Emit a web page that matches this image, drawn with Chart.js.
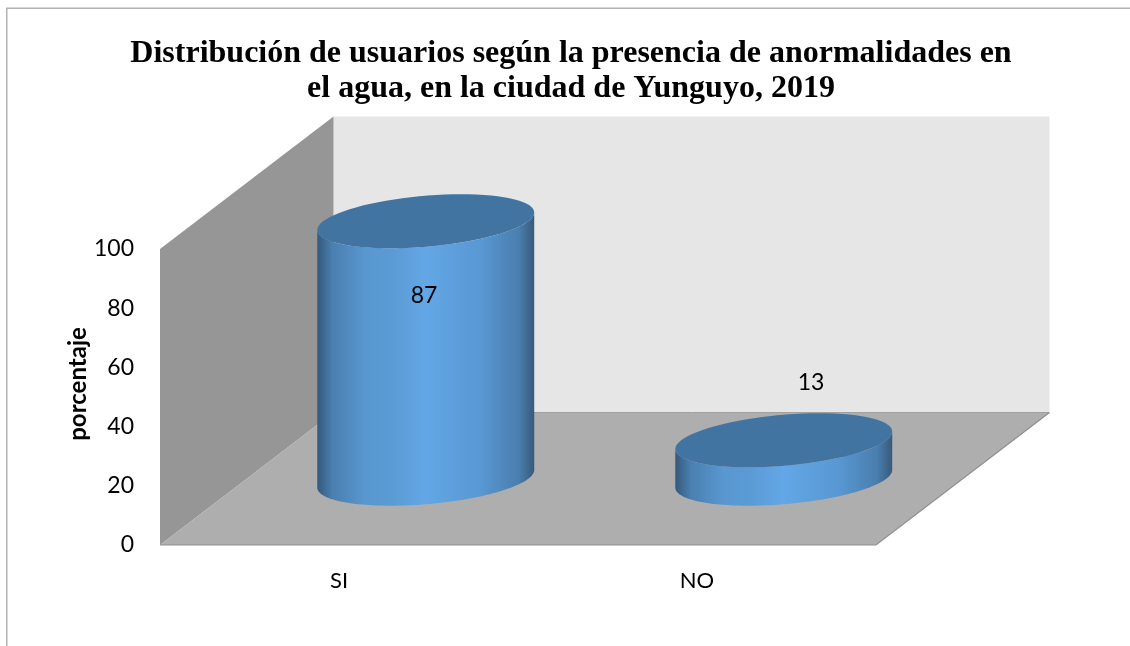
<!DOCTYPE html>
<html><head><meta charset="utf-8">
<style>html,body{margin:0;padding:0;background:#fff}#w{position:relative;width:1130px;height:646px}</style>
<script src="https://cdn.jsdelivr.net/npm/chart.js@4"></script>
</head><body><div id="w"><canvas id="c" width="1130" height="646"></canvas></div>
<script>
const categories = ['SI', 'NO'];
const porcentaje = [87, 13];
const tickLabels = [0, 20, 40, 60, 80, 100];
const titleLines = ['Distribución de usuarios según la presencia de anormalidades en', 'el agua, en la ciudad de Yunguyo, 2019'];
const axisTitle = 'porcentaje';

const DEPTH_X = 173.5, DEPTH_Y = -132.5;
const labelShift = [[85, 8.5], [114, -123.5]];

function ell(ctx, cx, cy, a, vx, vy, t0, t1, move) {
  const n = 80;
  for (let i = 0; i <= n; i++) {
    const t = t0 + (t1 - t0) * i / n;
    const x = cx + a * Math.cos(t) + vx * Math.sin(t), y = cy + vy * Math.sin(t);
    if (i === 0 && move) ctx.moveTo(x, y); else ctx.lineTo(x, y);
  }
}
const scene = {
  id: 'scene',
  beforeDraw(ch) {
    const c = ch.ctx, {left: l, right: r, top: t, bottom: b} = ch.chartArea;
    c.save();
    c.fillStyle = '#fff'; c.fillRect(0, 0, ch.width, ch.height);
    c.strokeStyle = '#b2b2b2'; c.lineWidth = 1.5;
    c.beginPath(); c.moveTo(6.75, 646); c.lineTo(6.75, 8.25); c.lineTo(1130, 8.25); c.stroke();
    const dx = DEPTH_X, dy = DEPTH_Y;
    c.fillStyle = '#e6e6e6'; c.fillRect(l + dx, t + dy, r - l, b - t);
    c.fillStyle = '#969696';
    c.beginPath(); c.moveTo(l, t); c.lineTo(l + dx, t + dy); c.lineTo(l + dx, b + dy); c.lineTo(l, b); c.closePath(); c.fill();
    c.fillStyle = '#aeaeae';
    c.beginPath(); c.moveTo(l, b); c.lineTo(r, b); c.lineTo(r + dx, b + dy); c.lineTo(l + dx, b + dy); c.closePath(); c.fill();
    c.strokeStyle = '#8f8f8f'; c.lineWidth = 1.2;
    c.beginPath(); c.moveTo(l, b); c.lineTo(r, b); c.lineTo(r + dx, b + dy); c.stroke();
    c.strokeStyle = '#a0a0a0'; c.lineWidth = 1;
    c.beginPath(); c.moveTo(l + dx, b + dy); c.lineTo(r + dx, b + dy); c.stroke();
    c.restore();
  },
  afterDatasetsDraw(ch) {
    const c = ch.ctx, meta = ch.getDatasetMeta(0);
    c.save();
    meta.data.forEach((bar, i) => {
      const cx = bar.x + DEPTH_X / 2, base = bar.base + DEPTH_Y / 2, top = bar.y + DEPTH_Y / 2;
      const half = bar.width / 2, vy = -27, vx = 35.4;
      const a = Math.sqrt(half * half - vx * vx);
      const tR = Math.atan2(vx, a);
      const g = c.createLinearGradient(cx - half, 0, cx + half, 0);
      g.addColorStop(0, '#35597b'); g.addColorStop(0.07, '#4a7fb0'); g.addColorStop(0.22, '#5897cf');
      g.addColorStop(0.35, '#5b9bd5'); g.addColorStop(0.5, '#63a7e6'); g.addColorStop(0.75, '#5898d3');
      g.addColorStop(0.93, '#4a7eae'); g.addColorStop(1, '#365a7a');
      c.fillStyle = g;
      c.beginPath();
      ell(c, cx, top, a, vx, vy, tR, tR - Math.PI, true);
      ell(c, cx, base, a, vx, vy, tR - Math.PI, tR, false);
      c.closePath(); c.fill();
      c.fillStyle = '#4274a2';
      c.beginPath(); ell(c, cx, top, a, vx, vy, 0, Math.PI * 2, true); c.closePath(); c.fill();
    });
    c.fillStyle = '#000'; c.font = '23px Lato'; c.textAlign = 'center'; c.textBaseline = 'middle';
    meta.data.forEach((bar, i) => c.fillText(String(porcentaje[i]), bar.x + labelShift[i][0], bar.y + labelShift[i][1]));
    c.translate(78, 384); c.rotate(-Math.PI / 2);
    c.font = 'bold 24px Lato'; c.fillText(axisTitle, 0, 0);
    c.restore();
  }
};
new Chart(document.getElementById('c'), {
  type: 'bar',
  data: { labels: categories, datasets: [{ data: porcentaje, backgroundColor: 'rgba(0,0,0,0)', borderWidth: 0,
    barPercentage: 0.606, categoryPercentage: 1 }] },
  plugins: [scene],
  options: {
    responsive: false, animation: false, events: [],
    layout: { padding: { left: 12, top: 36, right: 0, bottom: 0 } },
    plugins: {
      legend: { display: false }, tooltip: { enabled: false },
      title: { display: true, text: titleLines, color: '#000', font: { family: 'Liberation Serif', size: 32, weight: 'bold', lineHeight: 1.094 }, padding: { top: 0, bottom: 143 } }
    },
    scales: {
      x: {
        grid: { display: false }, border: { display: false },
        ticks: { color: '#000', font: { family: 'Lato', size: 22 }, padding: 15 },
        afterFit(s) { s.height = 101; }
      },
      y: {
        min: 0, max: 100,
        grid: { display: false }, border: { display: false },
        afterBuildTicks(s) { s.ticks = tickLabels.map(v => ({ value: v })); },
        ticks: { color: '#000', font: { family: 'Lato', size: 23 }, padding: 18 },
        afterFit(s) { s.width = 148; }
      },
      rightGap: {
        position: 'right', display: true,
        grid: { display: false }, border: { display: false }, ticks: { display: false },
        afterFit(s) { s.width = 254; }
      }
    }
  }
});
</script></body></html>
